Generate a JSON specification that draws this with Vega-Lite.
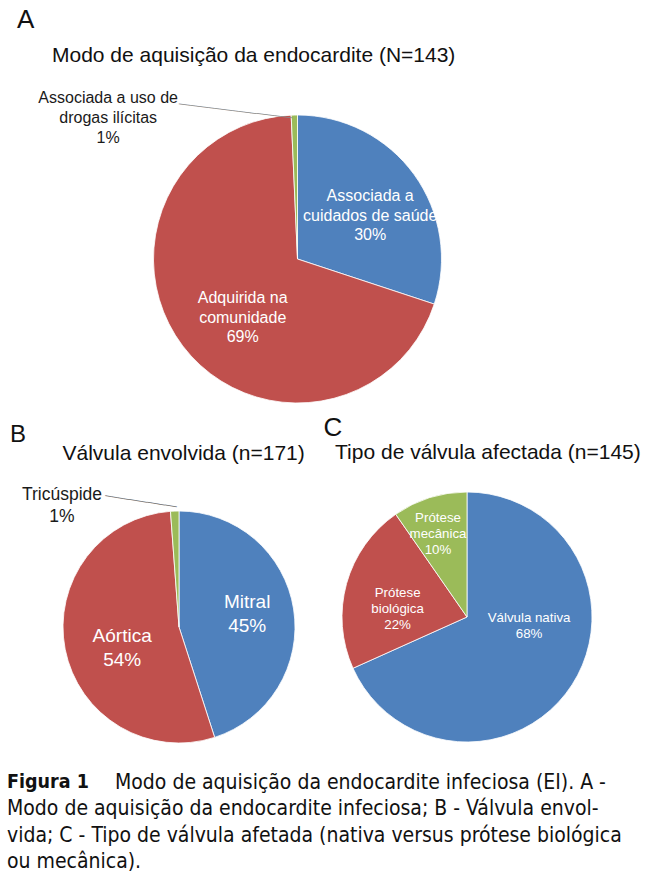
{
  "$schema": "https://vega.github.io/schema/vega-lite/v6.json",
  "padding": {"left": 0, "top": 7, "right": 0, "bottom": 0},
  "bounds": "flush",
  "spacing": 98,
  "config": {
    "view": {"stroke": null},
    "font": "Liberation Sans",
    "title": {"font": "Liberation Sans", "fontWeight": "normal", "color": "#111111", "anchor": "start", "subtitleFont": "Liberation Sans", "subtitleColor": "#111111"},
    "text": {"font": "Liberation Sans", "baseline": "middle", "lineBreak": "\n"}
  },
  "title": {
    "text": "Figura 1",
    "subtitle": [
      "\u200b\u00a0\u00a0\u00a0\u00a0\u00a0\u00a0\u00a0\u00a0\u00a0\u00a0\u00a0\u00a0\u00a0\u00a0\u00a0\u00a0\u00a0\u00a0Modo de aquisição da endocardite infeciosa (EI). A -",
      "Modo de aquisição da endocardite infeciosa; B - Válvula envol-",
      "vida; C - Tipo de válvula afetada (nativa versus prótese biológica",
      "ou mecânica)."
    ],
    "orient": "bottom",
    "anchor": "start",
    "dx": 7,
    "offset": 21,
    "font": "DejaVu Sans Condensed",
    "fontWeight": "bold",
    "fontSize": 19.5,
    "color": "#111111",
    "subtitleFont": "DejaVu Sans Condensed",
    "subtitleFontSize": 21,
    "subtitleColor": "#111111",
    "subtitleLineHeight": 26.3,
    "subtitlePadding": -20.5
  },
  "vconcat": [
    {
      "width": 595,
      "height": 290,
      "title": {"text": "A", "subtitle": "\u200b\u00a0\u00a0\u00a0\u00a0\u00a0\u00a0Modo de aquisição da endocardite (N=143)", "fontSize": 26, "subtitleFontSize": 21, "subtitlePadding": 12, "dx": 17, "offset": 24},
      "data": {"values": [
        {"cat": "Associada a cuidados de saúde", "n": 43, "ord": 1, "label": "Associada a\ncuidados de saúde\n30%"},
        {"cat": "Adquirida na comunidade", "n": 99, "ord": 2, "label": "Adquirida na\ncomunidade\n69%"},
        {"cat": "Associada a uso de drogas ilícitas", "n": 1, "ord": 3, "label": "Associada a uso de\ndrogas ilícitas\n1%"}
      ]},
      "encoding": {
        "theta": {"field": "n", "type": "quantitative", "stack": true},
        "order": {"field": "ord", "type": "quantitative"}
      },
      "layer": [
        {
          "mark": {"type": "arc", "outerRadius": 144, "stroke": "#ffffff", "strokeWidth": 0.8},
          "encoding": {"color": {"field": "cat", "type": "nominal", "legend": null,
            "scale": {"domain": ["Associada a cuidados de saúde", "Adquirida na comunidade", "Associada a uso de drogas ilícitas"], "range": ["#4F81BD", "#C0504D", "#9BBB59"]}}}
        },
        {
          "mark": {"type": "text", "radius": 86, "dx": 3, "dy": -12.5, "fill": "#ffffff", "fontSize": 16, "lineHeight": 19.5},
          "encoding": {"text": {"condition": {"test": "datum.ord == 1", "field": "label"}, "value": ""}}
        },
        {
          "mark": {"type": "text", "radius": 80, "dx": 9, "dy": -9, "fill": "#ffffff", "fontSize": 16, "lineHeight": 19.5},
          "encoding": {"text": {"condition": {"test": "datum.ord == 2", "field": "label"}, "value": ""}}
        },
        {
          "transform": [
            {"stack": "n", "groupby": [], "sort": [{"field": "ord", "order": "ascending"}], "as": ["t0", "t1"]},
            {"filter": "datum.ord == 3"}
          ],
          "mark": {"type": "text", "radius": 144, "dx": -183, "dy": -17, "fill": "#1a1a1a", "fontSize": 16, "lineHeight": 20},
          "encoding": {
            "theta": {"field": "t0", "type": "quantitative", "stack": null},
            "text": {"field": "label"}
          }
        },
        {
          "transform": [
            {"stack": "n", "groupby": [], "sort": [{"field": "ord", "order": "ascending"}], "as": ["t0", "t1"]},
            {"filter": "datum.ord == 3"}
          ],
          "mark": {"type": "text", "radius": 144, "dx": 1.5, "dy": 3, "align": "right", "angle": 7, "font": "DejaVu Sans", "fontSize": 10, "fill": "#8a8a8a", "text": "───────────────────"},
          "encoding": {
            "theta": {"field": "t0", "type": "quantitative", "stack": null}
          }
        }
      ]
    },
    {
      "bounds": "flush",
      "spacing": 0,
      "hconcat": [
        {
          "width": 358,
          "height": 250,
          "title": {"text": "B", "subtitle": "\u200b\u00a0\u00a0\u00a0\u00a0\u00a0\u00a0\u00a0\u00a0\u00a0Válvula envolvida (n=171)", "fontSize": 24, "subtitleFontSize": 21, "subtitlePadding": -3.6, "dx": 10, "offset": 22},
          "data": {"values": [
            {"cat": "Mitral", "n": 77, "ord": 1, "label": "Mitral\n45%"},
            {"cat": "Aórtica", "n": 92, "ord": 2, "label": "Aórtica\n54%"},
            {"cat": "Tricúspide", "n": 2, "ord": 3, "label": "Tricúspide\n1%"}
          ]},
          "encoding": {
            "theta": {"field": "n", "type": "quantitative", "stack": true},
            "order": {"field": "ord", "type": "quantitative"}
          },
          "layer": [
            {
              "mark": {"type": "arc", "outerRadius": 116, "stroke": "#ffffff", "strokeWidth": 0.8},
              "encoding": {"color": {"field": "cat", "type": "nominal", "legend": null,
                "scale": {"domain": ["Mitral", "Aórtica", "Tricúspide"], "range": ["#4F81BD", "#C0504D", "#9BBB59"]}}}
            },
            {
              "mark": {"type": "text", "radius": 69, "dy": -14, "fill": "#ffffff", "fontSize": 19, "lineHeight": 24},
              "encoding": {"text": {"condition": {"test": "datum.ord == 1", "field": "label"}, "value": ""}}
            },
            {
              "mark": {"type": "text", "radius": 62, "dx": 4, "dy": -3, "fill": "#ffffff", "fontSize": 19, "lineHeight": 24},
              "encoding": {"text": {"condition": {"test": "datum.ord == 2", "field": "label"}, "value": ""}}
            },
            {
              "transform": [
                {"stack": "n", "groupby": [], "sort": [{"field": "ord", "order": "ascending"}], "as": ["t0", "t1"]},
                {"filter": "datum.ord == 3"}
              ],
              "mark": {"type": "text", "radius": 116, "dx": -108.5, "dy": -16, "fill": "#1a1a1a", "fontSize": 17.5, "lineHeight": 22},
              "encoding": {
                "theta": {"field": "t0", "type": "quantitative", "stack": null},
                "text": {"field": "label"}
              }
            },
            {
              "transform": [
                {"stack": "n", "groupby": [], "sort": [{"field": "ord", "order": "ascending"}], "as": ["t0", "t1"]},
                {"filter": "datum.ord == 3"}
              ],
              "mark": {"type": "text", "radius": 116, "dx": 5.5, "dy": -5, "align": "right", "angle": 8.8, "font": "DejaVu Sans", "fontSize": 10, "fill": "#6f6f6f", "text": "────────────"},
              "encoding": {
                "theta": {"field": "t0", "type": "quantitative", "stack": null}
              }
            }
          ]
        },
        {
          "width": 218,
          "height": 230,
          "title": {"text": "C", "subtitle": "\u200b\u00a0\u00a0Tipo de válvula afectada (n=145)", "fontSize": 26, "subtitleFontSize": 21, "subtitlePadding": 1, "dx": -17, "offset": 27},
          "data": {"values": [
            {"cat": "Válvula nativa", "n": 99, "ord": 1, "label": "Válvula nativa\n68%"},
            {"cat": "Prótese biológica", "n": 32, "ord": 2, "label": "Prótese\nbiológica\n22%"},
            {"cat": "Prótese mecânica", "n": 14, "ord": 3, "label": "Prótese\nmecânica\n10%"}
          ]},
          "encoding": {
            "theta": {"field": "n", "type": "quantitative", "stack": true},
            "order": {"field": "ord", "type": "quantitative"}
          },
          "layer": [
            {
              "mark": {"type": "arc", "outerRadius": 125, "stroke": "#ffffff", "strokeWidth": 0.8},
              "encoding": {"color": {"field": "cat", "type": "nominal", "legend": null,
                "scale": {"domain": ["Válvula nativa", "Prótese biológica", "Prótese mecânica"], "range": ["#4F81BD", "#C0504D", "#9BBB59"]}}}
            },
            {
              "mark": {"type": "text", "radius": 62, "dx": 10, "dy": -33, "fill": "#ffffff", "fontSize": 13.3, "lineHeight": 16},
              "encoding": {"text": {"condition": {"test": "datum.ord == 1", "field": "label"}, "value": ""}}
            },
            {
              "mark": {"type": "text", "radius": 72, "dy": -5, "fill": "#ffffff", "fontSize": 13.3, "lineHeight": 16},
              "encoding": {"text": {"condition": {"test": "datum.ord == 2", "field": "label"}, "value": ""}}
            },
            {
              "mark": {"type": "text", "radius": 87, "dx": -3, "dy": -16, "fill": "#ffffff", "fontSize": 13.3, "lineHeight": 16},
              "encoding": {"text": {"condition": {"test": "datum.ord == 3", "field": "label"}, "value": ""}}
            }
          ]
        }
      ]
    }
  ]
}
